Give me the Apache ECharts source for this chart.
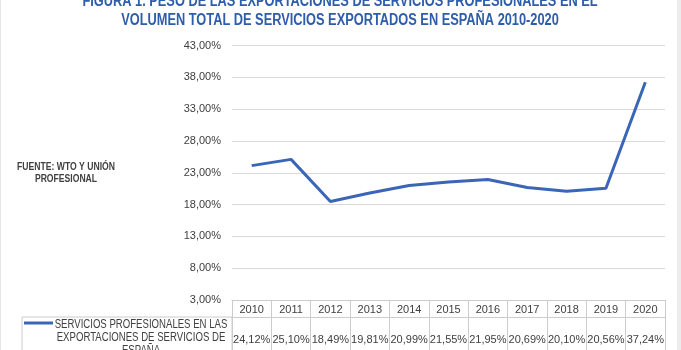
<!DOCTYPE html>
<html>
<head>
<meta charset="utf-8">
<script src="https://cdn.jsdelivr.net/npm/echarts@6/dist/echarts.min.js"></script>
<style>
  html, body { margin: 0; padding: 0; background: #fff; }
  #chart { width: 681px; height: 350px; }
</style>
</head>
<body>
<div id="chart"></div>
<script>
// datos de la figura
const years = ['2010', '2011', '2012', '2013', '2014', '2015', '2016', '2017', '2018', '2019', '2020'];
const shares = [24.12, 25.10, 18.49, 19.81, 20.99, 21.55, 21.95, 20.69, 20.10, 20.56, 37.24];
const seriesName = 'SERVICIOS PROFESIONALES EN LAS\nEXPORTACIONES DE SERVICIOS DE\nESPAÑA';
const titleText = 'FIGURA 1. PESO DE LAS EXPORTACIONES DE SERVICIOS PROFESIONALES EN EL\nVOLUMEN TOTAL DE SERVICIOS EXPORTADOS EN ESPAÑA 2010-2020';
const sourceText = 'FUENTE: WTO Y UNIÓN\nPROFESIONAL';

const FONT = '"Liberation Sans", Arial, sans-serif';
const NARROW = 0.8; // no hay Arial Narrow: se estrecha el texto a mano
const BLUE = '#3A66B8';
const TEXT = '#404040';
const BORDER = '#cccccc';

// formato español: 24,12%
const pct = v => v.toFixed(2).replace('.', ',') + '%';

const chart = echarts.init(document.getElementById('chart'), null, { renderer: 'canvas' });

const axisFont = { fontFamily: FONT, fontSize: 11, color: TEXT, lineHeight: 12 };

const option = {
    backgroundColor: '#fff',
    animation: false,
    grid: { left: 232, right: 16, top: 45.5, bottom: 50 },
    xAxis: [
        {
            // fila de años de la tabla
            type: 'category',
            data: years,
            boundaryGap: true,
            position: 'bottom',
            axisLine: { show: true, lineStyle: { color: BORDER, width: 1 } },
            axisTick: { show: true, length: 17, lineStyle: { color: BORDER } },
            axisLabel: Object.assign({ margin: 4, interval: 0 }, axisFont)
        },
        {
            // fila de valores de la tabla
            type: 'category',
            data: shares.map(pct),
            boundaryGap: true,
            position: 'bottom',
            offset: 17,
            axisLine: { show: true, lineStyle: { color: BORDER, width: 1 } },
            axisTick: { show: true, length: 40, lineStyle: { color: BORDER } },
            axisLabel: Object.assign({ margin: 17, interval: 0 }, axisFont)
        }
    ],
    yAxis: {
        type: 'value',
        min: 3,
        max: 43,
        interval: 5,
        axisLine: { show: false },
        axisTick: { show: false },
        splitLine: { show: true, lineStyle: { color: '#d9d9d9', width: 1 } },
        axisLabel: Object.assign({ margin: 11, formatter: v => pct(v) }, axisFont)
    },
    series: [{
        name: seriesName,
        type: 'line',
        data: shares,
        symbol: 'none',
        lineStyle: { color: BLUE, width: 3 },
        itemStyle: { color: BLUE }
    }],
    graphic: [
        // título
        {
            type: 'text',
            x: 340,
            y: 11,
            scaleX: NARROW,
            style: {
                text: titleText,
                fontFamily: FONT,
                fontSize: 16,
                fontWeight: 'bold',
                lineHeight: 19,
                fill: '#2E5DAA',
                align: 'center',
                verticalAlign: 'middle'
            },
            silent: true
        },
        // celda de la leyenda en la tabla
        {
            type: 'rect',
            shape: { x: 22, y: 317, width: 210, height: 60 },
            style: { fill: 'none', stroke: BORDER, lineWidth: 1 },
            silent: true
        },
        {
            type: 'line',
            shape: { x1: 24, y1: 323, x2: 53, y2: 323 },
            style: { stroke: BLUE, lineWidth: 3 },
            silent: true
        },
        {
            type: 'text',
            x: 141,
            y: 318,
            scaleX: NARROW,
            style: {
                text: seriesName,
                fontFamily: FONT,
                fontSize: 12,
                lineHeight: 13,
                fill: TEXT,
                align: 'center',
                verticalAlign: 'top'
            },
            silent: true
        },
        // fuente
        {
            type: 'text',
            x: 66,
            y: 161,
            scaleX: 0.82,
            style: {
                text: sourceText,
                fontFamily: FONT,
                fontSize: 10.5,
                fontWeight: 'bold',
                lineHeight: 12,
                fill: TEXT,
                align: 'center',
                verticalAlign: 'top'
            },
            silent: true
        },
        // marco de la imagen
        {
            type: 'rect',
            shape: { x: 677, y: 0, width: 4, height: 350 },
            style: { fill: '#ececec' },
            silent: true
        },
        {
            type: 'line',
            shape: { x1: 0.5, y1: 0, x2: 0.5, y2: 350 },
            style: { stroke: '#e6e6e6', lineWidth: 1 },
            silent: true
        }
    ]
};

chart.setOption(option);
</script>
</body>
</html>
